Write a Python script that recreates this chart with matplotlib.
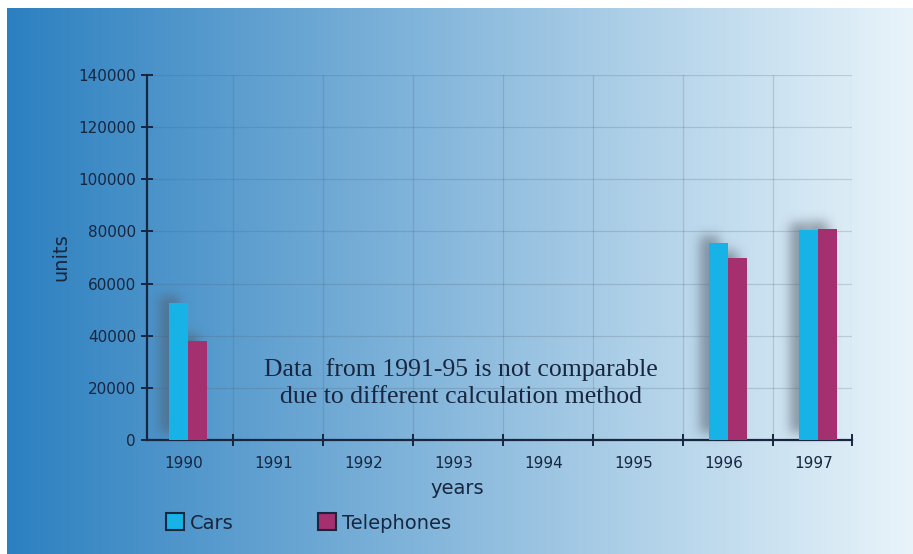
import numpy as np
import matplotlib
matplotlib.use("Agg")
import matplotlib.pyplot as plt
import matplotlib.transforms as mtransforms
from matplotlib.patches import Patch
from matplotlib.ticker import FixedLocator, NullFormatter

# ---- data -------------------------------------------------------------
years = ["1990", "1991", "1992", "1993", "1994", "1995", "1996", "1997"]
cars = [52500, np.nan, np.nan, np.nan, np.nan, np.nan, 75500, 80500]
telephones = [38000, np.nan, np.nan, np.nan, np.nan, np.nan, 70000, 81000]
y_ticks = [0, 20000, 40000, 60000, 80000, 100000, 120000, 140000]
note = "Data  from 1991-95 is not comparable\ndue to different calculation method"

CAR_COLOR = "#17b3e6"
TEL_COLOR = "#a5306f"
INK = "#18263f"

W, H = 913, 554
fig = plt.figure(figsize=(W / 100, H / 100), dpi=100)
fig.patch.set_facecolor("white")

# ---- background: horizontal blue-to-white gradient ---------------------
bg = fig.add_axes([7 / W, 0, 1 - 7 / W, 1 - 8 / H], zorder=-10)
left = np.array([44, 128, 192]) / 255
right = np.array([233, 244, 250]) / 255
t = np.linspace(0, 1, 512)[None, :, None]
grad = left + (right - left) * t
bg.imshow(grad, aspect="auto", extent=[0, 1, 0, 1], interpolation="bilinear")
bg.set_axis_off()


# ---- soft drop shadow drawn through an agg filter ----------------------
def drop_shadow(sigma_pt, dx_pt, dy_pt, alpha, rgb):
    def _filter(im, dpi):
        s = sigma_pt / 72 * dpi
        dx = int(round(dx_pt / 72 * dpi))
        dy = int(round(dy_pt / 72 * dpi))
        r = int(np.ceil(3 * s))
        pad = r + max(abs(dx), abs(dy)) + 2
        a = np.pad(im[..., 3], pad)
        xk = np.arange(-r, r + 1)
        k = np.exp(-0.5 * (xk / s) ** 2)
        k /= k.sum()
        a = np.apply_along_axis(lambda v: np.convolve(v, k, "same"), 0, a)
        a = np.apply_along_axis(lambda v: np.convolve(v, k, "same"), 1, a)
        a = np.roll(a, dx, axis=1)
        a = np.roll(a, -dy, axis=0)
        out = np.zeros(a.shape + (4,))
        out[..., :3] = rgb
        out[..., 3] = np.clip(a * alpha, 0, 1)
        return out, -pad, -pad
    return _filter


# ---- main axes -----------------------------------------------------------
x0_px, x1_px, y0_px, y1_px = 147, 852, 440, 75
cat_w = 90.0
ax = fig.add_axes([x0_px / W, 1 - y0_px / H, (x1_px - x0_px) / W, (y0_px - y1_px) / H])
ax.patch.set_alpha(0)

x = np.arange(len(years))
bw = 0.215

shadow = drop_shadow(4.0, -6.5, 5, 0.55, (0.32, 0.35, 0.40))
for vals, off in ((cars, -bw / 2), (telephones, bw / 2)):
    sh = ax.bar(x + off, vals, bw, color="black", zorder=2)
    for p in sh.patches:
        p.set_agg_filter(shadow)

ax.bar(x - bw / 2, cars, bw, color=CAR_COLOR, zorder=3, label="Cars")
ax.bar(x + bw / 2, telephones, bw, color=TEL_COLOR, zorder=3, label="Telephones")

ax.set_xlim(-(188 - x0_px) / cat_w, (x1_px - 188) / cat_w)
ax.set_ylim(0, 140000)

# grid
grid_kw = dict(color="#4f5f6e", alpha=0.22, linewidth=0.9, zorder=1)
for yv in y_ticks[1:]:
    ax.axhline(yv, **grid_kw)
xmin, xmax = ax.get_xlim()
for xb in list(np.arange(0.5, len(years) - 1, 1.0)) + [xmax]:
    ax.axvline(xb, **grid_kw)

for s in ("top", "right"):
    ax.spines[s].set_visible(False)
for s in ("left", "bottom"):
    ax.spines[s].set_color(INK)
    ax.spines[s].set_linewidth(1.6)

ax.set_yticks(y_ticks)
ax.set_yticklabels([str(v) for v in y_ticks])
ax.tick_params(axis="y", direction="inout", length=8, width=1.4, color=INK,
               pad=4, labelsize=11, labelcolor=INK)

ax.set_xticks(x)
ax.set_xticklabels(years)
ax.tick_params(axis="x", which="major", length=0, pad=11.5, labelsize=11,
               labelcolor=INK)
shift = mtransforms.ScaledTranslation(-4 / 100, 0, fig.dpi_scale_trans)
for lbl in ax.get_xticklabels():
    lbl.set_transform(lbl.get_transform() + shift)
ax.xaxis.set_minor_locator(FixedLocator(list(np.arange(0.5, len(years) - 1, 1.0)) + [xmax]))
ax.xaxis.set_minor_formatter(NullFormatter())
ax.tick_params(axis="x", which="minor", direction="inout", length=9, width=1.4,
               color=INK)

ax.set_ylabel("units", fontsize=14, color=INK)
ax.yaxis.set_label_coords((70 - x0_px) / (x1_px - x0_px), 0.5)
ax.set_xlabel("years", fontsize=14, color=INK)
ax.xaxis.set_label_coords((457 - x0_px) / (x1_px - x0_px), (y0_px - 479) / (y0_px - y1_px))

ax.text((461 - x0_px) / (x1_px - x0_px), (y0_px - 383) / (y0_px - y1_px), note,
        transform=ax.transAxes, ha="center", va="center", fontsize=18.5,
        family="Liberation Serif", color=INK, linespacing=1.3, zorder=4)

# legend
handles = [Patch(facecolor=CAR_COLOR, edgecolor=INK, linewidth=1.5, label="Cars"),
           Patch(facecolor=TEL_COLOR, edgecolor=INK, linewidth=1.5, label="Telephones")]
leg = fig.legend(handles=handles, loc="center left",
                 bbox_to_anchor=(166 / W, 1 - 523 / H), ncol=2, frameon=False,
                 fontsize=14, handlelength=0.95, handleheight=0.95,
                 handletextpad=0.3, columnspacing=4.3, borderpad=0,
                 borderaxespad=0)
for txt in leg.get_texts():
    txt.set_color(INK)

fig.savefig("out.png", dpi=100)
